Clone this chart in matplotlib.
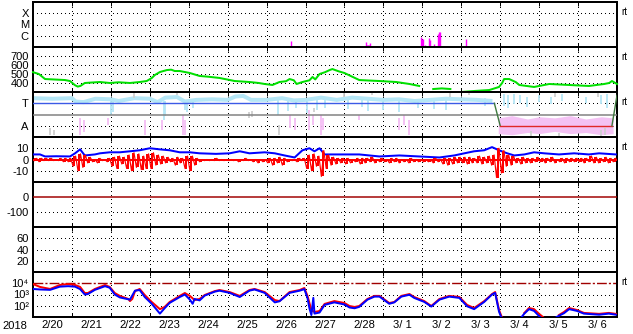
import matplotlib
matplotlib.use("Agg")
import matplotlib.pyplot as plt
import numpy as np

plt.rcParams["font.family"] = ["Liberation Sans", "DejaVu Sans"]
plt.rcParams["font.size"] = 8
plt.rcParams["axes.unicode_minus"] = False

PX = 0.72  # one pixel in points at dpi 100

# time axis: days since 2018-02-20 00:00
day_labels = ["2/20", "2/21", "2/22", "2/23", "2/24", "2/25", "2/26", "2/27",
              "2/28", "3/ 1", "3/ 2", "3/ 3", "3/ 4", "3/ 5", "3/ 6"]

# X-ray flares (time, peak flux W/m2)
flare_t = [6.615, 8.564, 8.59, 8.615, 8.641, 8.667, 9.872, 9.974, 10.0, 10.026,
           10.077, 10.179, 10.205, 10.308, 10.41, 10.436, 10.462, 10.795, 11.128, 12.077]
flare_flux = [3.4e-7, 2.8e-7, 1.5e-7, 1.5e-7, 1.5e-7, 2.3e-7, 1.2e-7, 7.7e-7, 5e-7, 5e-7,
              1.5e-7, 6.3e-7, 4.2e-7, 1.8e-7, 1.4e-6, 2.2e-6, 2.2e-6, 1.2e-7, 5e-7, 1.2e-7]

# solar wind speed (km/s)
speed_t = [0.0, 0.15, 0.31, 0.5, 0.82, 0.95, 1.08, 1.15, 1.22, 1.33, 1.5, 1.72, 1.97,
           2.2, 2.49, 2.74, 2.92, 3.05, 3.13, 3.26, 3.44, 3.55, 3.64, 3.77, 4.03, 4.28,
           4.5, 4.79, 5.18, 5.56, 5.8, 5.95, 6.15, 6.33, 6.5, 6.59, 6.7, 6.77, 6.92,
           7.1, 7.18, 7.25, 7.36, 7.5, 7.62, 7.69, 7.85, 8.0, 8.38, 8.6, 8.9, 9.33,
           9.67, 9.92, 9.97, 10.28, 10.5, 10.72, 10.8, 11.0, 11.33, 11.72, 11.97,
           12.05, 12.1, 12.23, 12.4, 12.49, 12.87, 13.26, 13.77, 14.28, 14.67, 14.8,
           14.87, 15.0]
speed = [520, 500, 444, 440, 433, 422, 375, 360, 368, 400, 405, 411, 400,
         408, 400, 411, 422, 455, 489, 522, 544, 548, 533, 533, 511, 478,
         470, 456, 422, 411, 400, 389, 378, 411, 420, 444, 430, 389, 411,
         430, 467, 440, 500, 520, 544, 555, 530, 511, 433, 428, 422, 411,
         389, 367, np.nan, 333, 340, 333, np.nan, 300, 311, 322, 356,
         400, 444, 444, 410, 378, 356, 389, 378, 367, 389, 400,
         422, 389]

# IMF sector panel (T = 3, A = 1)
sector_t = [0.0, 11.85, 12.0, 14.87, 15.0]
sector_v = [3, 3, 1, 1, 3.7]
sector_c = ["#3c5ae6", "#3f7a3f", "#e02828", "#3f7a3f"]

lb_t = [0.0, 0.5, 1.0, 1.1, 1.3, 1.6, 2.0, 2.2, 2.6, 3.0, 3.2, 3.4, 3.7, 3.9, 4.2,
        4.6, 5.0, 5.2, 5.4, 5.6, 6.0, 6.4, 6.7, 7.0, 7.4, 7.8, 8.2, 8.6, 9.0, 9.4,
        9.8, 10.2, 10.6, 11.0, 11.4, 11.8]
lb_y = [3.45, 3.4, 3.45, 3.15, 3.1, 3.4, 3.35, 3.2, 3.45, 3.4, 3.1, 3.5, 3.55, 3.15, 3.3,
        3.35, 3.3, 3.6, 3.65, 3.3, 3.3, 3.45, 3.25, 3.3, 3.5, 3.3, 3.5, 3.4, 3.3, 3.35,
        3.2, 3.3, 3.4, 3.35, 3.3, 3.2]
lb_streaks = [(2.0, 2.0, 3.3), (2.05, 2.2, 3.3), (3.36, 1.5, 3.2), (3.4, 1.9, 3.2),
              (3.9, 2.4, 3.2), (3.95, 2.2, 3.2), (4.1, 2.6, 3.2), (6.3, 2.0, 3.3),
              (6.55, 2.3, 3.4), (6.75, 2.6, 3.4), (7.05, 2.1, 3.4), (7.3, 2.4, 3.4),
              (7.5, 2.6, 3.3), (8.1, 2.5, 3.4), (8.45, 2.7, 3.5), (8.6, 2.3, 3.4),
              (9.0, 2.4, 3.3), (9.4, 2.2, 3.3), (9.9, 2.6, 3.4), (10.3, 2.5, 3.4),
              (10.6, 2.4, 3.4), (11.6, 2.8, 3.5), (12.1, 2.8, 3.8), (12.2, 2.6, 3.7),
              (12.35, 2.9, 3.8), (12.5, 3.0, 3.7), (12.7, 2.7, 3.6), (13.0, 3.1, 3.7),
              (13.3, 2.9, 3.6), (13.6, 3.2, 3.8), (14.2, 3.0, 3.6), (14.6, 2.9, 3.7),
              (14.75, 2.6, 3.8)]
pink_streaks = [(1.2, 0.2, 1.7), (1.31, 0.45, 1.5), (1.92, 1.05, 1.7), (2.87, 0.2, 1.5),
                (3.31, 0.6, 1.5), (3.85, 0.2, 1.95), (3.9, 0.2, 1.5), (6.59, 0.8, 1.95),
                (6.72, 0.6, 1.7), (7.1, 0.6, 2.4), (7.18, 1.05, 1.95), (7.41, 0.2, 1.95),
                (7.46, 0.6, 1.7), (8.38, 1.5, 1.95), (9.41, 0.6, 1.7), (9.54, 1.05, 1.95),
                (9.67, 0.2, 1.5)]
pink_t = [11.95, 12.3, 12.7, 13.0, 13.4, 13.8, 14.2, 14.6, 14.9]
pink_lo = [0.3, 0.2, 0.4, 0.3, 0.5, 0.3, 0.4, 0.2, 0.3]
pink_hi = [1.7, 1.9, 1.6, 1.8, 1.7, 1.9, 1.6, 1.8, 1.7]
grey_streaks = [(0.44, 0.2, 0.8), (0.55, 0.2, 0.6), (5.56, 1.7, 2.2), (5.62, 1.8, 2.3),
                (6.33, 0.2, 1.05), (7.23, 2.2, 2.6), (8.0, 3.6, 3.9), (8.7, 3.7, 3.95),
                (10.7, 3.6, 3.9), (11.2, 3.7, 3.95), (12.8, 0.1, 0.5), (13.4, 3.6, 3.9),
                (13.5, 0.1, 0.4), (14.5, 3.6, 3.95), (14.6, 0.1, 0.6), (14.7, 0.2, 0.8),
                (2.6, 3.5, 3.9), (3.7, 3.7, 3.95)]

# IMF Bt (nT)
bt_t = [0.0, 0.18, 0.31, 0.6, 0.95, 1.08, 1.21, 1.33, 1.59, 1.72, 1.97, 2.23, 2.49,
        2.74, 3.0, 3.26, 3.51, 3.77, 4.03, 4.28, 4.7, 5.05, 5.31, 5.56, 5.95, 6.21,
        6.46, 6.72, 6.92, 7.1, 7.23, 7.36, 7.49, 8.13, 8.38, 8.9, 9.41, 9.92, 10.44,
        10.82, 11.08, 11.33, 11.59, 11.79, 11.97, 12.18, 12.36, 12.62, 12.87, 13.13,
        13.51, 13.9, 14.28, 14.54, 14.97]
bt = [4.5, 4.5, 2.7, 2.9, 2.7, 5.5, 9.0, 3.6, 4.5, 5.5, 6.4, 6.4, 7.3,
      8.2, 10.0, 9.0, 8.2, 6.4, 6.4, 5.5, 5.0, 5.5, 7.3, 5.5, 6.4, 5.5,
      3.6, 1.8, 8.2, 10.0, 7.3, 10.0, 4.5, 4.5, 4.5, 2.7, 3.6, 2.7, 1.8,
      3.6, 5.5, 7.3, 8.2, 11.0, 8.2, 5.5, 3.6, 4.5, 6.4, 5.5,
      4.5, 5.5, 4.5, 5.5, 4.5]

# IMF Bz (nT), high / low per 3-hour bin
bz_hi = [1, 1, 1, 1, 0, 1, 1, 1,
         3, 5, 4, 2, 0, 1, 0, 1,
         2, 3, 2, 4, 6, 5, 3, 5,
         6, 4, 3, 2, 1, 2, 1, 3,
         3, 1, 0, 0, 0, 1, 0, 0,
         0, 0, 0, 1, 0, 0, 0, 0,
         1, 1, 2, 1, 0, 0, 1, 1,
         4, 5, 3, 8, 4, 2, 1, 1,
         1, 0, 1, 1, 1, 2, 0, 1,
         0, 1, 1, 0, 0, 1, 0, 0,
         0, 0, 1, 0, 1, 1, 2, 2,
         2, 2, 1, 3, 2, 3, 4, 10,
         8, 4, 3, 1, 2, 1, 1, 2,
         1, 1, 2, 0, 1, 1, 1, 1,
         1, 1, 3, 2, 1, 2, 1, 1]
bz_lo = [-1, -2, -1, -1, -1, -1, -2, -2,
         -6, -10, -7, -3, -2, -3, -1, -2,
         -6, -8, -4, -8, -10, -7, -9, -8,
         -8, -5, -4, -3, -2, -5, -3, -8,
         -10, -5, -2, -1, -1, -1, -1, -1,
         -1, -1, -2, -1, -1, -2, -3, -2,
         -3, -5, -3, -5, -2, -1, -2, -1,
         -8, -10, -6, -15, -8, -5, -4, -3,
         -4, -3, -2, -4, -3, -2, -3, -2,
         -2, -3, -2, -3, -2, -3, -2, -2,
         -2, -2, -3, -2, -4, -5, -4, -3,
         -3, -4, -3, -3, -4, -3, -5, -16,
         -12, -6, -5, -3, -4, -3, -3, -2,
         -2, -3, -2, -3, -2, -3, -2, -2,
         -2, -3, -2, -3, -3, -2, -3, -2]

# electron flux >2 MeV (two satellites)
ered_t = [0.0, 0.18, 0.44, 0.69, 0.9, 1.08, 1.21, 1.33, 1.41, 1.59, 1.85, 1.97, 2.1,
          2.23, 2.45, 2.49, 2.55, 2.62, 2.74, 2.87, 3.05, 3.26, 3.38, 3.51, 3.77, 3.9,
          4.03, 4.15, 4.28, 4.41, 4.67, 4.79, 5.05, 5.31, 5.56, 5.69, 5.95, 6.21, 6.33,
          6.59, 6.85, 6.97, 7.05, 7.15, 7.23, 7.36, 7.49, 7.74, 8.0, 8.13, 8.26, 8.38,
          8.59, 8.77, 8.9, 9.15, 9.28, 9.46, 9.67, 9.79, 10.05, 10.23, 10.44, 10.69,
          10.95, 11.15, 11.33, 11.59, 11.79, 11.87, 11.97, 12.05, 12.3, 12.62, 12.74,
          12.87, 13.0, 13.13, 13.3, 13.51, 13.64, 13.77, 13.97, 14.15, 14.54, 14.79, 14.97]
ered = [8500, 4700, 3100, 7000, 8500, 7000, 4700, 1350, 1350, 3100, 7000, 4700, 1350,
        750, 400, 260, 400, 2000, 3100, 900, 215, 50, 78, 215, 750, 1350,
        750, 320, 400, 900, 2000, 2500, 1650, 750, 2500, 3100, 1650, 320, 260,
        1650, 2500, 3800, 750, 42, 28, 34, 145, 260, 175, 95, 78, 95,
        400, 750, 750, 175, 215, 750, 1100, 600, 260, 95, 400, 750,
        600, 118, 63, 260, 1100, 1650, 42, 8, np.nan, 23, 63,
        50, 19, 8, np.nan, 15, 28, 63, 42, 23, 19, 23, 19]
eblue_t = [0.0, 0.18, 0.44, 0.69, 0.9, 1.08, 1.21, 1.33, 1.41, 1.59, 1.85, 1.97, 2.1,
           2.23, 2.49, 2.62, 2.74, 2.87, 3.05, 3.26, 3.38, 3.51, 3.77, 3.9, 4.03, 4.1,
           4.15, 4.28, 4.41, 4.67, 4.79, 5.05, 5.31, 5.56, 5.69, 5.95, 6.21, 6.33, 6.59,
           6.85, 6.97, 7.05, 7.1, 7.15, 7.2, 7.23, 7.36, 7.49, 7.74, 8.0, 8.13, 8.26,
           8.38, 8.59, 8.77, 8.9, 9.15, 9.28, 9.46, 9.67, 9.79, 10.05, 10.23, 10.44,
           10.69, 10.95, 11.15, 11.33, 11.59, 11.79, 11.87, 11.97, 12.05, 12.3, 12.55,
           12.62, 12.74, 12.87, 13.0, 13.1, 13.3, 13.45, 13.51, 13.64, 13.77, 13.97,
           14.15, 14.54, 14.79, 14.97]
eblue = [3100, 2800, 2600, 5000, 5500, 5000, 3000, 1000, 1100, 2600, 5500, 4000, 1000,
         550, 350, 2200, 2500, 600, 150, 20, 60, 180, 600, 1000, 350, 150,
         400, 300, 800, 1800, 2200, 1400, 600, 2200, 2800, 1400, 200, 250, 1400,
         2200, 3000, 500, 60, 15, 500, 20, 25, 120, 200, 130, 70, 60,
         80, 350, 650, 650, 150, 200, 650, 950, 500, 220, 85, 350,
         650, 500, 90, 50, 220, 1000, 1400, 30, 6, np.nan, 10,
         20, 50, 35, 12, 6, np.nan, 10, 13, 22, 50, 35,
         20, 16, 20, 16]

fig = plt.figure(figsize=(6.33, 3.34), dpi=100)
W, H = 633, 334
x0, x1 = 33, 617
axes = []
for i in range(7):
    top = 2 + 45 * i
    axes.append(fig.add_axes([x0 / W, 1 - (top + 45) / H, (x1 - x0) / W, 45 / H]))

dotted = dict(color="black", lw=1.0 * PX, ls=(0, (1, 3)), zorder=1, antialiased=False)
days = np.arange(len(day_labels) + 1)

for ax in axes:
    ax.set_xlim(0, len(day_labels))
    for sp in ax.spines.values():
        sp.set_linewidth(2 * PX)
    ax.set_xticks(days)
    ax.set_xticklabels([])
    ax.tick_params(axis="x", which="major", direction="in", length=3, width=PX,
                   top=True, bottom=True)
    ax.tick_params(axis="y", length=0, pad=3, labelsize=8)
    ax.set_xticks(days[:-1] + 0.5, minor=True)
    ax.tick_params(axis="x", which="minor", length=0)
    for d in days[1:-1]:
        ax.axvline(d, **dotted)

# panel 1: X-ray flares
ax = axes[0]
ax.set_yscale("log")
ax.set_ylim(1e-7, 1e-3)
xray_levels = [1e-6, 1e-5, 1e-4]
ax.set_yticks(xray_levels)
ax.set_yticklabels(["C", "M", "X"])
ax.yaxis.set_minor_locator(matplotlib.ticker.NullLocator())
for v in xray_levels:
    ax.axhline(v, **dotted)
ax.vlines(flare_t, 1e-7, flare_flux, color="#ff00ff", lw=1.4 * PX, zorder=3)

# panel 2: solar wind speed
ax = axes[1]
ax.set_ylim(300, 800)
speed_ticks = [400, 500, 600, 700]
ax.set_yticks(speed_ticks)
for v in speed_ticks:
    ax.axhline(v, **dotted)
ax.plot(speed_t, speed, color="#00e000", lw=2 * PX, zorder=3, clip_on=False)

# panel 3: IMF sector
ax = axes[2]
ax.set_ylim(0, 4)
ax.set_yticks([1, 3])
ax.set_yticklabels(["A", "T"])
for v in [1, 3]:
    ax.axhline(v, **dotted)
ax.plot(lb_t, lb_y, color="#b4e6f6", lw=4 * PX, zorder=2, solid_capstyle="butt")
for t, lo, hi in lb_streaks:
    ax.vlines(t, lo, hi, color="#b4e6f6", lw=1.8 * PX, zorder=2)
ax.fill_between(pink_t, pink_lo, pink_hi, color="#f4c2f4", lw=0, zorder=2)
for t, lo, hi in pink_streaks:
    ax.vlines(t, lo, hi, color="#f4bdf4", lw=1.8 * PX, zorder=2)
for t, lo, hi in grey_streaks:
    ax.vlines(t, lo, hi, color="#cfcfcf", lw=1.8 * PX, zorder=2)
ax.axhline(2, color="#808080", lw=1.5 * PX, zorder=3)
for k, c in enumerate(sector_c):
    ax.plot(sector_t[k:k + 2], sector_v[k:k + 2], color=c, lw=1.4 * PX, zorder=4)

# panel 4: IMF Bt / Bz
ax = axes[3]
ax.set_ylim(-20, 20)
b_ticks = [-10, 0, 10]
ax.set_yticks(b_ticks)
for v in [-10, 10]:
    ax.axhline(v, **dotted)
ax.plot(bt_t, bt, color="#0000ff", lw=2 * PX, zorder=3)
bin_t = np.arange(len(bz_hi)) / 8.0
zig_t = np.ravel(np.column_stack([bin_t + 1 / 32, bin_t + 3 / 32]))
zig_v = np.ravel(np.column_stack([bz_lo, bz_hi]))
ax.vlines(bin_t + 1 / 16, bz_lo, bz_hi, color="#ff0000", lw=2 * PX, zorder=4)
ax.plot(zig_t, zig_v, color="#ff0000", lw=1.2 * PX, zorder=4)
ax.axhline(-0.5, color="#ff0000", lw=2 * PX, zorder=4)

# panel 5: Dst
ax = axes[4]
ax.set_ylim(-200, 100)
ax.set_yticks([-100, 0])
ax.axhline(-100, **dotted)
ax.axhline(0, color="#a00000", lw=1.5 * PX, zorder=3)

# panel 6
ax = axes[5]
ax.set_ylim(0, 80)
p6_ticks = [20, 40, 60]
ax.set_yticks(p6_ticks)
for v in p6_ticks:
    ax.axhline(v, **dotted)

# panel 7: electron flux
ax = axes[6]
ax.set_yscale("log")
ax.set_ylim(10, 1e5)
e_ticks = [1e2, 1e3, 1e4]
ax.set_yticks(e_ticks)
ax.set_yticklabels(["10\u00b2", "10\u00b3", "10\u2074"], fontsize=8)
ax.yaxis.set_minor_locator(matplotlib.ticker.NullLocator())
for v in e_ticks[:2]:
    ax.axhline(v, **dotted)
ax.axhline(1e4, color="#a00000", lw=1.4 * PX, ls=(0, (7, 1.5, 1.5, 1.5)), zorder=2)
ax.plot(ered_t, ered, color="#ff0000", lw=2 * PX, zorder=3)
ax.plot(eblue_t, eblue, color="#0000ff", lw=2 * PX, zorder=4)
ax.set_xticklabels(day_labels, minor=True, fontsize=8)
ax.tick_params(axis="x", which="minor", pad=2)

fig.text(2 / W, 1 - 326 / H, "2018", ha="left", va="center", fontsize=8)
for ypx in [12, 57, 102, 147, 282]:
    fig.text(621 / W, 1 - ypx / H, "rt", ha="left", va="center", fontsize=7)

fig.savefig("out.png", dpi=100)
